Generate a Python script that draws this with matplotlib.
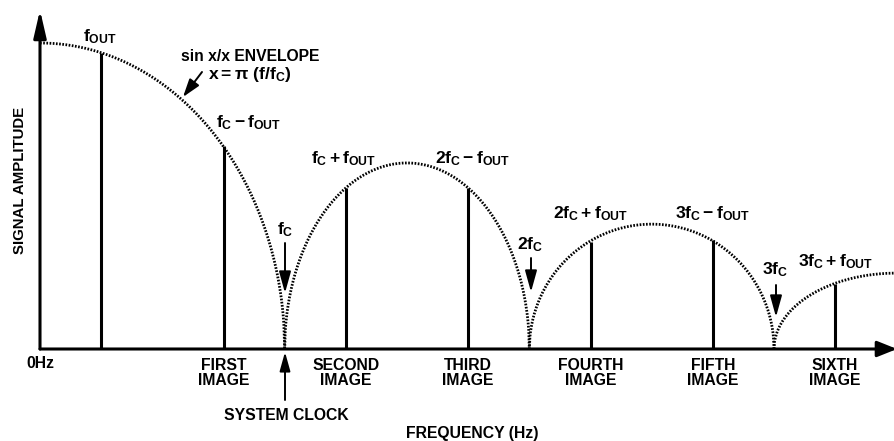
import numpy as np
import matplotlib
matplotlib.use('Agg')
import matplotlib.pyplot as plt

plt.rcParams['font.family'] = ['Liberation Sans', 'DejaVu Sans']
plt.rcParams['font.weight'] = 'bold'
plt.rcParams['mathtext.fontset'] = 'custom'
plt.rcParams['mathtext.rm'] = 'Liberation Sans:bold'
plt.rcParams['mathtext.it'] = 'Liberation Sans:bold'
plt.rcParams['mathtext.bf'] = 'Liberation Sans:bold'
plt.rcParams['mathtext.sf'] = 'Liberation Sans:bold'

# envelope lobes (frequency in units of fc, amplitude relative to DC)
lobe_start = [0, 1, 2, 3]
lobe_peak = [1.0, 0.608, 0.408, 0.248]

# output tone and its images
image_f = [0.25, 0.75, 1.25, 1.75, 2.25, 2.75, 3.25]
image_amp = [0.967, 0.663, 0.526, 0.526, 0.351, 0.356, 0.212]
image_names = ['', 'FIRST', 'SECOND', 'THIRD', 'FOURTH', 'FIFTH', 'SIXTH']
spur_labels = [r'$f_{OUT}$', r'$f_C - f_{OUT}$', r'$f_C + f_{OUT}$', r'$2f_C - f_{OUT}$',
               r'$2f_C + f_{OUT}$', r'$3f_C - f_{OUT}$', r'$3f_C + f_{OUT}$']
clock_labels = [r'$f_C$', r'$2f_C$', r'$3f_C$']

FS = 11.3
MFS = 12.6  # math labels, the subscripts come out smaller

fig = plt.figure(figsize=(8.94, 4.41), dpi=100)
ax = fig.add_axes([0, 0, 1, 1])
ax.set_xlim(-40 / 244.67, 854 / 244.67)
ax.set_ylim(-92 / 306.0, 349 / 306.0)
ax.axis('off')


def P(x, y):
    # pixel position in the picture -> data coords
    return ((x - 40) / 244.67, (349 - y) / 306.0)


def arrow(tail, tip, lw=1.4, hl=12, hw=3.4):
    ax.annotate('', xy=P(*tip), xytext=P(*tail), annotation_clip=False,
                arrowprops=dict(arrowstyle='-|>,head_length=%g,head_width=%g' % (hl, hw),
                                lw=lw, color='k', shrinkA=0, shrinkB=0,
                                mutation_scale=1))


# sin x/x envelope
for i, (s, pk) in enumerate(zip(lobe_start, lobe_peak)):
    if i == 0:
        f = np.linspace(0, 1, 300)
        y = pk * np.sqrt(np.clip(1 - f ** 2, 0, None))
    else:
        f = np.linspace(s, s + 1, 400)
        u = (f - s - 0.5) / 0.5
        y = pk * np.sqrt(np.clip(1 - u ** 2, 0, None))
    ax.plot(f, y, color='k', lw=2.0, dashes=(0.6, 0.55), solid_capstyle='butt')

# spectral lines
ax.vlines(image_f, 0, image_amp, color='k', lw=2.2)

# axes with arrows
arrow((40, 349), (40, 10), lw=2.2, hl=16.5, hw=3.8)
arrow((40, 349), (897, 349), lw=2.2, hl=12, hw=4.8)

# labels
ax.text(*P(100, 41), spur_labels[0], fontsize=MFS, ha='center', va='baseline')
ax.text(*P(248.5, 127), spur_labels[1], fontsize=MFS, ha='center', va='baseline')
ax.text(*P(344, 163), spur_labels[2], fontsize=MFS, ha='center', va='baseline')
ax.text(*P(472, 163), spur_labels[3], fontsize=MFS, ha='center', va='baseline')
ax.text(*P(590, 218), spur_labels[4], fontsize=MFS, ha='center', va='baseline')
ax.text(*P(712, 218), spur_labels[5], fontsize=MFS, ha='center', va='baseline')
ax.text(*P(835, 266), spur_labels[6], fontsize=MFS, ha='center', va='baseline')

ax.text(*P(250.5, 61), 'sin x/x ENVELOPE', fontsize=FS, ha='center', va='baseline')
ax.text(*P(250, 79), r'$x = \pi\ (f/f_C)$', fontsize=MFS, ha='center', va='baseline')
arrow((202, 72), (183, 97), hl=11, hw=3.6)

ax.text(*P(285, 234), clock_labels[0], fontsize=MFS, ha='center', va='baseline')
arrow((285, 243), (285, 293), hl=13, hw=3.6)
ax.text(*P(530, 249), clock_labels[1], fontsize=MFS, ha='center', va='baseline')
arrow((531, 258), (531, 292), hl=13, hw=3.6)
ax.text(*P(775, 274), clock_labels[2], fontsize=MFS, ha='center', va='baseline')
arrow((776, 285), (776, 317), hl=13, hw=3.6)

ax.text(*P(40, 368), '0Hz', fontsize=FS, ha='center', va='baseline')
for f, name in zip(image_f, image_names):
    if name:
        ax.text(f, P(0, 370)[1], name, fontsize=FS, ha='center', va='baseline')
        ax.text(f, P(0, 385)[1], 'IMAGE', fontsize=FS, ha='center', va='baseline')

arrow((285, 400), (285, 352), hl=11.5, hw=3.2)
ax.text(*P(286, 420), 'SYSTEM CLOCK', fontsize=FS, ha='center', va='baseline')
ax.text(*P(472, 438), 'FREQUENCY (Hz)', fontsize=FS, ha='center', va='baseline')
ax.text(*P(20, 180), 'SIGNAL AMPLITUDE', fontsize=10.8, ha='center', va='center',
        rotation=90)

fig.savefig('out.png', dpi=100)
